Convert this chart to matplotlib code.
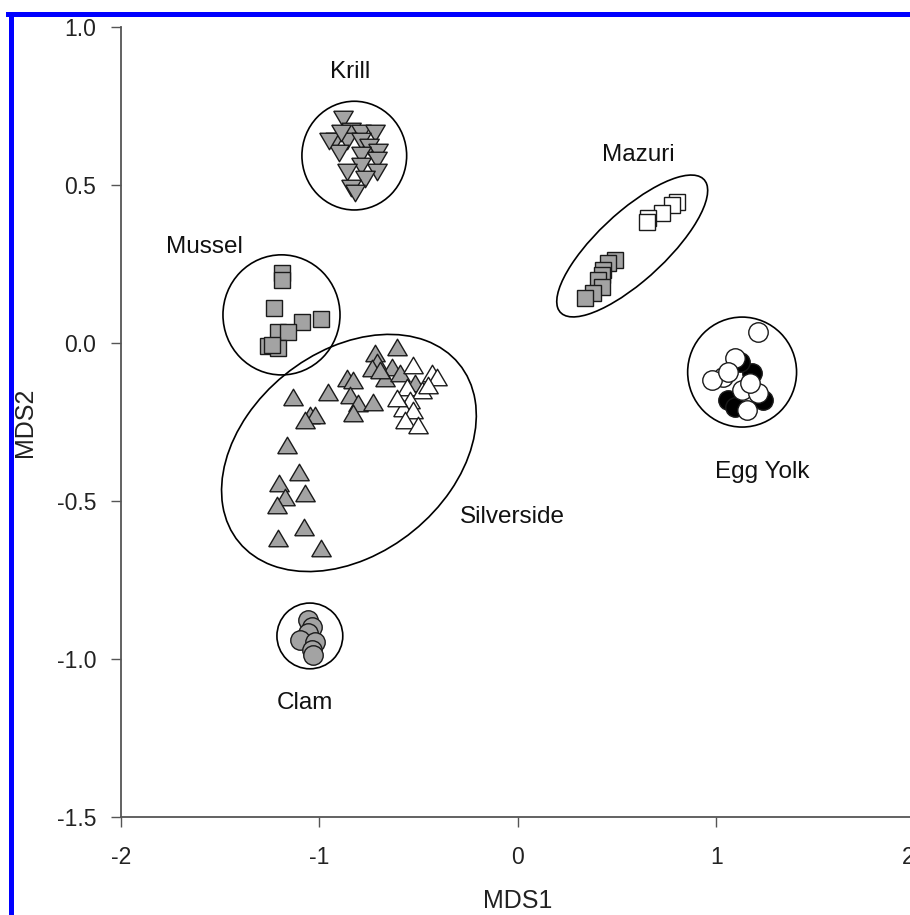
import numpy as np
import matplotlib
matplotlib.use('Agg')
import matplotlib.pyplot as plt
from matplotlib.patches import Ellipse
from matplotlib.lines import Line2D

plt.rcParams['font.family'] = ['Liberation Sans', 'DejaVu Sans']

# MDS coordinates
krill_x = [-0.88, -0.84, -0.79, -0.72, -0.92, -0.86, -0.79, -0.75, -0.90, -0.705,
           -0.79, -0.71, -0.79, -0.86, -0.71, -0.77, -0.84, -0.82, -0.95, -0.89]
krill_y = [0.71, 0.67, 0.665, 0.665, 0.64, 0.64, 0.64, 0.62, 0.60, 0.605,
           0.595, 0.58, 0.56, 0.54, 0.54, 0.52, 0.49, 0.475, 0.64, 0.665]

mussel_x = [-1.19, -1.19, -1.23, -0.99, -1.09, -1.21, -1.16, -1.26, -1.21, -1.24]
mussel_y = [0.22, 0.20, 0.11, 0.075, 0.065, 0.035, 0.035, -0.01, -0.015, -0.005]

silver_gray_x = [-1.133, -0.957, -1.048, -1.023, -1.073, -1.164, -0.861, -0.831, -0.846,
                 -0.806, -0.831, -0.730, -0.720, -0.710, -0.736, -0.610, -0.635, -0.670,
                 -0.695, -0.594, -0.519,
                 -1.103, -1.204, -1.174, -1.073, -1.214, -1.078, -1.209, -0.992]
silver_gray_y = [-0.171, -0.155, -0.228, -0.228, -0.244, -0.323, -0.111, -0.117, -0.165,
                 -0.190, -0.222, -0.187, -0.032, -0.060, -0.079, -0.013, -0.076, -0.111,
                 -0.085, -0.095, -0.127,
                 -0.408, -0.443, -0.487, -0.475, -0.513, -0.582, -0.617, -0.649]
silver_white_x = [-0.529, -0.433, -0.408, -0.559, -0.484, -0.453, -0.544, -0.579,
                  -0.529, -0.569, -0.504, -0.610]
silver_white_y = [-0.070, -0.095, -0.108, -0.139, -0.149, -0.133, -0.180, -0.206,
                  -0.212, -0.244, -0.259, -0.174]

mazuri_white_x = [0.801, 0.776, 0.725, 0.655, 0.650]
mazuri_white_y = [0.446, 0.437, 0.411, 0.396, 0.383]
mazuri_gray_x = [0.489, 0.453, 0.428, 0.423, 0.403, 0.423, 0.378, 0.338]
mazuri_gray_y = [0.263, 0.253, 0.231, 0.215, 0.199, 0.177, 0.158, 0.142]

egg_black_x = [1.058, 1.093, 1.234, 1.179, 1.118]
egg_black_y = [-0.180, -0.203, -0.180, -0.095, -0.060]
egg_white_x = [1.209, 1.093, 1.033, 0.977, 1.128, 1.209, 1.154, 1.169, 1.058]
egg_white_y = [0.035, -0.047, -0.108, -0.117, -0.149, -0.158, -0.212, -0.127, -0.092]

clam_x = [-1.058, -1.038, -1.058, -1.098, -1.023, -1.038, -1.033]
clam_y = [-0.877, -0.899, -0.918, -0.940, -0.946, -0.972, -0.987]

# group ellipses: centre x, centre y, width, height, angle (data units)
ell_cx = [-0.824, -1.191, -0.851, 0.577, 1.131, -1.048]
ell_cy = [0.593, 0.089, -0.348, 0.307, -0.092, -0.927]
ell_w = [0.528, 0.590, 1.315, 0.847, 0.549, 0.332]
ell_h = [0.344, 0.380, 0.695, 0.251, 0.348, 0.208]
ell_a = [0, 0, 14.7, 27.4, 0, 0]

labels = ['Krill', 'Mussel', 'Silverside', 'Mazuri', 'Egg Yolk', 'Clam']
label_x = [-0.846, -1.577, -0.025, 0.61, 1.234, -1.073]
label_y = [0.858, 0.304, -0.551, 0.595, -0.408, -1.139]

tri_up = [(-1, -0.85), (1, -0.85), (0, 0.85), (-1, -0.85)]
tri_dn = [(-1, 0.85), (1, 0.85), (0, -0.85), (-1, 0.85)]
gray = '#a3a3a3'
edge = '#1a1a1a'

fig = plt.figure(figsize=(9.1, 9.15), dpi=100)
ax = fig.add_axes([121/910, 98/915, 793.5/910, 790/915])

for cx, cy, w, h, a in zip(ell_cx, ell_cy, ell_w, ell_h, ell_a):
    ax.add_patch(Ellipse((cx, cy), w, h, angle=a, fill=False, edgecolor='black',
                         linewidth=1.2, zorder=1))

kw = dict(linestyle='none', markeredgecolor=edge, markeredgewidth=1.0, zorder=3)
ax.plot(krill_x, krill_y, marker=tri_dn, markersize=14, markerfacecolor=gray, **kw)
ax.plot(mussel_x, mussel_y, marker='s', markersize=11.5, markerfacecolor=gray, **kw)
ax.plot(silver_gray_x, silver_gray_y, marker=tri_up, markersize=14, markerfacecolor=gray, **kw)
ax.plot(silver_white_x, silver_white_y, marker=tri_up, markersize=14, markerfacecolor='white', **kw)
ax.plot(mazuri_gray_x, mazuri_gray_y, marker='s', markersize=11.5, markerfacecolor=gray, **kw)
ax.plot(mazuri_white_x, mazuri_white_y, marker='s', markersize=11.5, markerfacecolor='white', **kw)
ax.plot(egg_black_x, egg_black_y, marker='o', markersize=14, markerfacecolor='black', **kw)
ax.plot(egg_white_x, egg_white_y, marker='o', markersize=14, markerfacecolor='white', **kw)
ax.plot(clam_x, clam_y, marker='o', markersize=14, markerfacecolor=gray, **kw)

for t, x, y in zip(labels, label_x, label_y):
    ax.text(x, y, t, fontsize=17.5, ha='center', va='center', color='#111111')

ax.set_xlim(-2, 2)
ax.set_ylim(-1.5, 1.0)
ax.set_xticks([-2, -1, 0, 1, 2])
ax.set_yticks([-1.5, -1.0, -0.5, 0.0, 0.5, 1.0])
ax.set_yticklabels(['-1.5', '-1.0', '-0.5', '0.0', '0.5', '1.0'])
ax.set_xticklabels(['-2', '-1', '0', '1', '2'])
for s in ['top', 'right']:
    ax.spines[s].set_visible(False)
for s in ['left', 'bottom']:
    ax.spines[s].set_color('#555555')
    ax.spines[s].set_linewidth(1.3)
ax.tick_params(axis='both', direction='out', length=7, width=1.0, color='#555555',
               labelsize=16.5, labelcolor='#222222')
ax.tick_params(axis='y', pad=11)
ax.tick_params(axis='x', pad=14)
ax.get_xticklabels()[-1].set_horizontalalignment('right')
ax.set_xlabel('MDS1', fontsize=18, color='#222222', labelpad=14)
ax.set_ylabel('MDS2', fontsize=18, color='#222222', labelpad=14)

# blue frame along top and left edge
fig.add_artist(Line2D([10.5/910, 10.5/910], [0, (915-13.5)/915], color='#0000ff',
                      linewidth=3.6, transform=fig.transFigure))
fig.add_artist(Line2D([8/910, 1], [(915-13.5)/915, (915-13.5)/915], color='#0000ff',
                      linewidth=3.6, transform=fig.transFigure))

fig.savefig('out.png', dpi=100)
